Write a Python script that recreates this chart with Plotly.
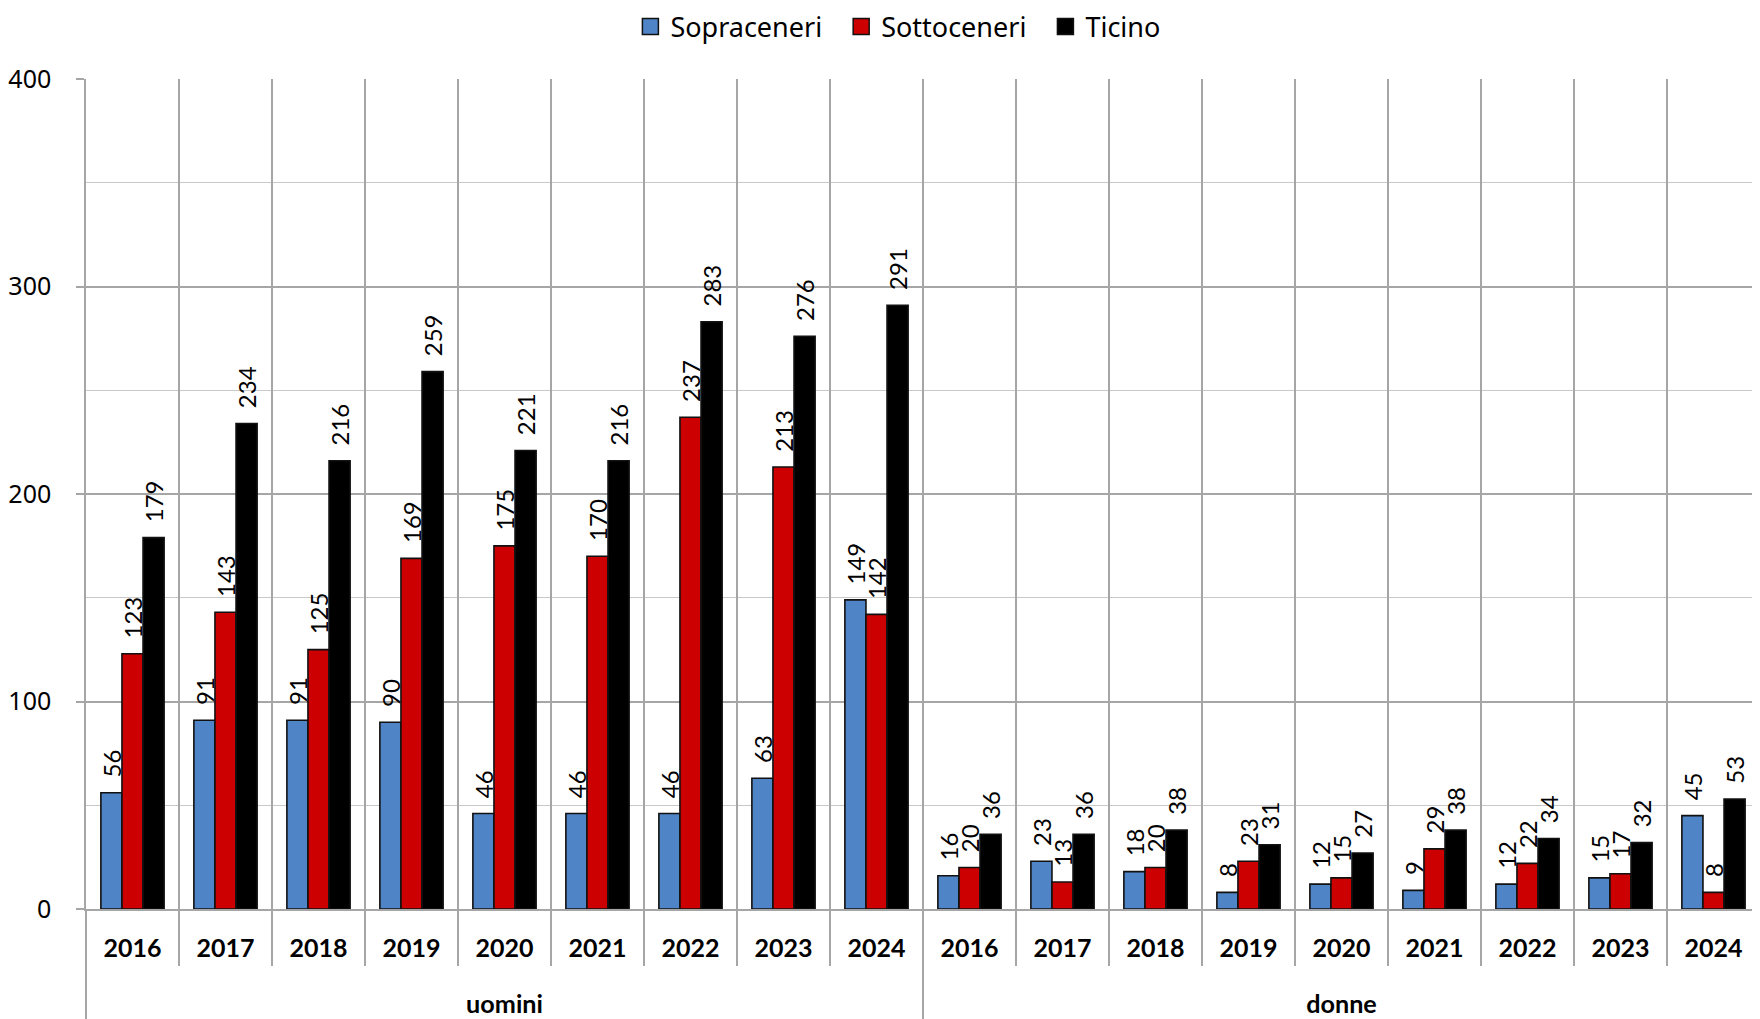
import plotly.graph_objects as go

years = ["2016", "2017", "2018", "2019", "2020", "2021", "2022", "2023", "2024"]
groups = ["uomini", "donne"]

uomini_sopraceneri = [56, 91, 91, 90, 46, 46, 46, 63, 149]
uomini_sottoceneri = [123, 143, 125, 169, 175, 170, 237, 213, 142]
uomini_ticino = [179, 234, 216, 259, 221, 216, 283, 276, 291]

donne_sopraceneri = [16, 23, 18, 8, 12, 9, 12, 15, 45]
donne_sottoceneri = [20, 13, 20, 23, 15, 29, 22, 17, 8]
donne_ticino = [36, 36, 38, 31, 27, 38, 34, 32, 53]

x_outer = (["<br><span style='font-size:36px'><sub>" + groups[0] + "</sub></span>"] * len(years)
           + ["<br><span style='font-size:36px'><sub>" + groups[1] + "</sub></span>"] * len(years))
x_inner = years + years

series = [
    ("Sopraceneri", uomini_sopraceneri + donne_sopraceneri, "#4F84C6"),
    ("Sottoceneri", uomini_sottoceneri + donne_sottoceneri, "#CC0000"),
    ("Ticino", uomini_ticino + donne_ticino, "#000000"),
]
legend_pad = ["\u00a0\u00a0", "\u00a0\u00a0", ""]

fig = go.Figure()
for name, vals, col in series:
    fig.add_trace(go.Bar(
        name=name,
        x=[x_outer, x_inner],
        y=vals,
        marker=dict(color=col, line=dict(color="#111111", width=1.6)),
        texttemplate="\u00a0\u00a0%{y}",
        textposition="outside",
        textangle=-90,
        constraintext="none",
        cliponaxis=False,
        textfont=dict(family="Lato", size=24, color="#000000"),
        showlegend=False,
    ))
# legend entries (large square keys)
for (name, vals, col), pad in zip(series, legend_pad):
    fig.add_trace(go.Scatter(
        name=name + pad, x=[None], y=[None], mode="markers",
        marker=dict(symbol="square", size=20, color=col, line=dict(color="#111111", width=1.5)),
        showlegend=True,
    ))

fig.update_layout(
    width=1760, height=1019,
    margin=dict(l=78, r=8, t=71, b=118),
    paper_bgcolor="white", plot_bgcolor="white",
    barmode="group", bargap=0.32, bargroupgap=0,
    showlegend=True,
    legend=dict(orientation="h", x=0.485, xanchor="center", yref="container", y=0.9815, yanchor="middle",
                font=dict(family="Noto Sans", size=27, color="#000000"),
                itemwidth=30, tracegroupgap=0, bgcolor="rgba(0,0,0,0)"),
    xaxis=dict(
        type="multicategory",
        automargin=False,
        tickson="boundaries",
        showgrid=True, gridcolor="#A6A6A6", gridwidth=1.5,
        ticks="outside", ticklen=55, tickcolor="#A6A6A6", tickwidth=1.5,
        ticklabelstandoff=16,
        showline=True, linecolor="#A6A6A6", linewidth=1.5,
        showdividers=True, dividercolor="#A6A6A6", dividerwidth=1.5,
        tickfont=dict(family="Lato", size=25, color="#000000", weight="bold"),
    ),
    yaxis=dict(
        automargin=False,
        range=[0, 400], dtick=100,
        showgrid=True, gridcolor="#A6A6A6", gridwidth=1.5,
        minor=dict(dtick=50, showgrid=True, gridcolor="#C8C8C8", gridwidth=1),
        ticks="outside", ticklen=8, tickcolor="#A6A6A6", tickwidth=1.5,
        ticklabelstandoff=20,
        showline=True, linecolor="#A6A6A6", linewidth=1.5,
        zeroline=False,
        tickfont=dict(family="Noto Sans", size=25, color="#000000"),
    ),
)

fig.write_html("out.html")
